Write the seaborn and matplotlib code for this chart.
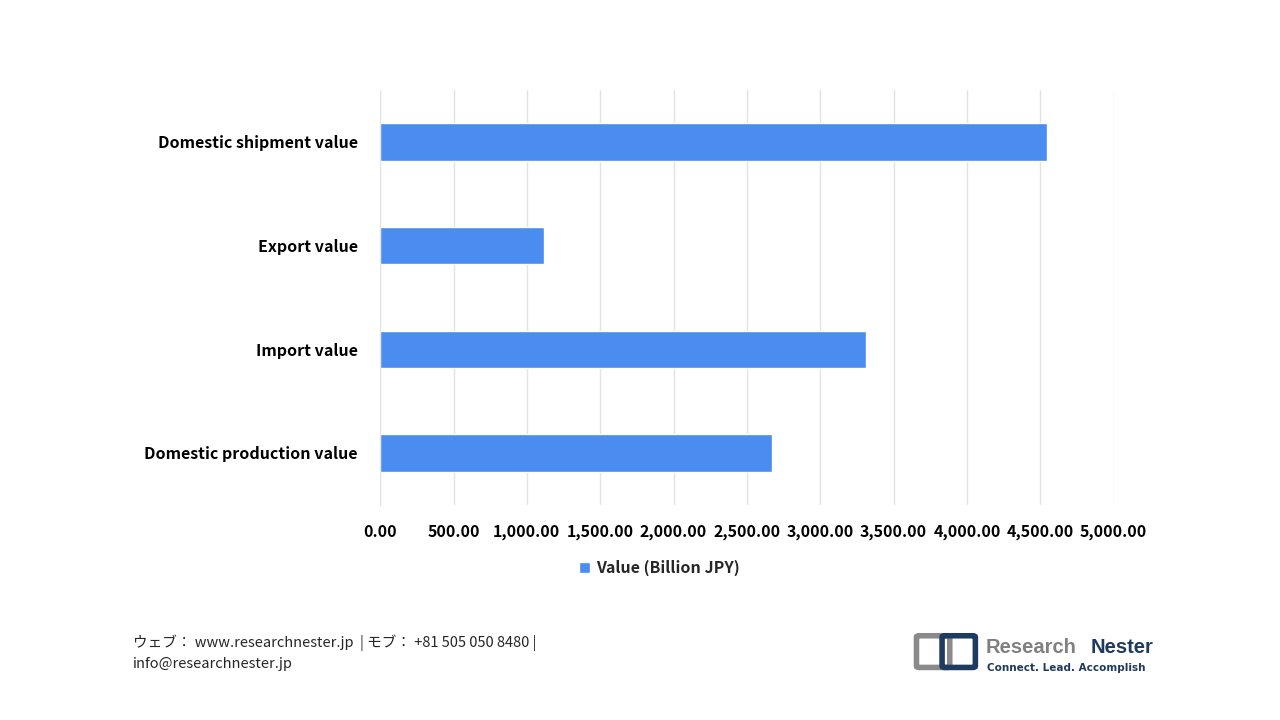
import matplotlib
matplotlib.use("Agg")
import matplotlib.pyplot as plt
from matplotlib.patches import FancyBboxPatch
import seaborn as sns
import pandas as pd

categories = ["Domestic shipment value", "Export value", "Import value", "Domestic production value"]
values = [4543, 1119, 3315, 2674]
ticks = [0, 500, 1000, 1500, 2000, 2500, 3000, 3500, 4000, 4500, 5000]

sns.set_style("white")
plt.rcParams['font.family'] = ['Noto Sans CJK JP', 'DejaVu Sans']

df = pd.DataFrame({"cat": categories, "val": values})
fig = plt.figure(figsize=(12.8, 7.2), dpi=100)
ax = fig.add_axes([0.297, 0.299, 0.573, 0.576])
sns.barplot(data=df, y="cat", x="val", color="#4a8cef", saturation=1, width=0.36, ax=ax,
            label="Value (Billion JPY)")
ax.set_xlim(0, 5000)
ax.set_xticks(ticks)
ax.set_xticklabels([f"{t:,.2f}" for t in ticks], fontsize=11.5, fontweight="bold", color="black")
ax.set_yticklabels(categories, fontsize=11.5, fontweight="bold", color="black")
ax.tick_params(axis="y", length=0, pad=16)
ax.tick_params(axis="x", length=0, pad=14)
ax.set_xlabel("")
ax.set_ylabel("")
ax.grid(axis="x", color="#e3e3e3", linewidth=1)
for s in ["top", "right", "bottom"]:
    ax.spines[s].set_visible(False)
ax.spines["left"].set_color("#e3e3e3")
fig.legend(*ax.get_legend_handles_labels(), loc="center", bbox_to_anchor=(0.515, 0.211),
           frameon=False, handlelength=0.7, handleheight=0.7, handletextpad=0.4,
           prop={"size": 11.5, "weight": "bold"})
if ax.get_legend():
    ax.get_legend().remove()

fig.text(0.104, 0.102, "ウェブ： www.researchnester.jp  | モブ： +81 505 050 8480 |", fontsize=10.5)
fig.text(0.104, 0.072, "info@researchnester.jp", fontsize=10.5)

# logo
fig.patches.append(FancyBboxPatch((0.718, 0.075), 0.022, 0.04, boxstyle="round,pad=0.002",
                                  fc="none", ec="#8a8a8a", lw=4, transform=fig.transFigure))
fig.patches.append(FancyBboxPatch((0.738, 0.075), 0.022, 0.04, boxstyle="round,pad=0.002",
                                  fc="none", ec="#1f3a5f", lw=4, transform=fig.transFigure))
fig.text(0.770, 0.093, "Research", fontsize=14.5, fontweight="bold", color="#808080",
         family="Liberation Sans")
fig.text(0.852, 0.093, "Nester", fontsize=14.5, fontweight="bold", color="#1f3a5f",
         family="Liberation Sans")
fig.text(0.771, 0.068, "Connect. Lead. Accomplish", fontsize=7.5, fontweight="bold",
         color="#1f3a5f", family="DejaVu Sans")
fig.savefig("out.png", dpi=100)
